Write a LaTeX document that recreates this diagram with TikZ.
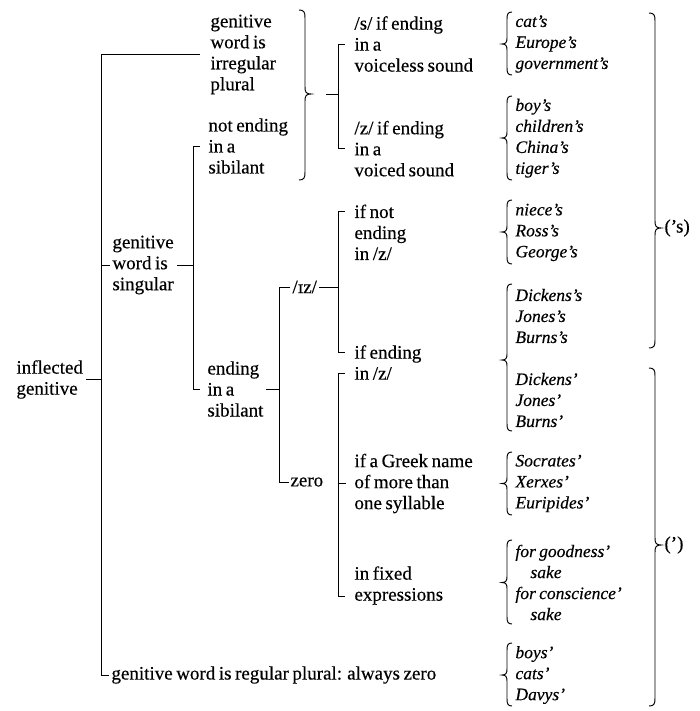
\documentclass[tikz,border=0pt]{standalone}
\usepackage{fontspec}
\setmainfont{Liberation Serif}[WordSpace=0.75,FakeBold=0.35]
\newfontfamily\ipa[Scale=0.9,FakeBold=0.35]{DejaVu Serif}
% right-facing brace: x, top, tip, bottom
\newcommand\RBr[4]{\draw ({#1-6},#2) .. controls ({#1-1},#2) and (#1,{#2+2}) .. (#1,{#2+8}) -- (#1,{#3-7}) .. controls (#1,{#3-2}) and ({#1+1},#3) .. ({#1+6},#3) .. controls ({#1+1},#3) and (#1,{#3+2}) .. (#1,{#3+7}) -- (#1,{#4-8}) .. controls (#1,{#4-2}) and ({#1-1},#4) .. ({#1-6},#4);}
% left-facing brace: x, top, tip, bottom
\newcommand\LBr[4]{\draw ({#1+5},#2) .. controls ({#1+1},#2) and (#1,{#2+2}) .. (#1,{#2+7}) -- (#1,{#3-6}) .. controls (#1,{#3-2}) and ({#1-1},#3) .. ({#1-5},#3) .. controls ({#1-1},#3) and (#1,{#3+2}) .. (#1,{#3+6}) -- (#1,{#4-7}) .. controls (#1,{#4-2}) and ({#1+1},#4) .. ({#1+5},#4);}
\begin{document}
\begin{tikzpicture}[x=1pt,y=-1pt,line width=0.95pt,
  lbl/.style={inner sep=0pt,anchor=west,align=left,font=\fontsize{19}{21}\selectfont},
  ex/.style={lbl,font=\fontsize{17.5}{21}\selectfont\itshape}]
\useasboundingbox (0,0) rectangle (699,711);
% trunk x positions
\coordinate (mx) at (101,0);
\coordinate (sx) at (193,0);
\coordinate (bx) at (279,0);
\coordinate (cx) at (338,0);
% labels
\node[lbl] (infl) at (16,379.5) {inflected\\genitive};
\node[lbl] (irr) at (210,54.5) {genitive\\word is\\irregular\\plural};
\node[lbl] (notend) at (208,146) {not ending\\in a\\sibilant};
\node[lbl] (sing) at (112,265) {genitive\\word is\\singular};
\node[lbl] (endsib) at (207,389) {ending\\in a\\sibilant};
\node[lbl] (reg) at (111,675) {genitive word is regular plural: always zero};
\node[lbl] (iz) at (292,287) {/{\ipa ɪ}z/};
\node[lbl] (zero) at (290,482) {zero};
\node[lbl] (vless) at (354,44) {/s/ if ending\\in a\\voiceless sound};
\node[lbl] (voiced) at (354,148.7) {/z/ if ending\\in a\\voiced sound};
\node[lbl] (notz) at (354,232.4) {if not\\ending\\in /z/};
\node[lbl] (ifz) at (354,362.5) {if ending\\in /z/};
\node[lbl] (greek) at (354,483.5) {if a Greek name\\of more than\\one syllable};
\node[lbl] (fixed) at (354,585.5) {in fixed\\expressions};
% examples
\node[ex] (e1) at (515,44) {cat's\\Europe's\\government's};
\node[ex] (e2) at (515,138.2) {boy's\\children's\\China's\\tiger's};
\node[ex] (e3) at (515,232.4) {niece's\\Ross's\\George's};
\node[ex] (e4) at (515,316) {Dickens's\\Jones's\\Burns's};
\node[ex] (e5) at (515,400) {Dickens'\\Jones'\\Burns'};
\node[ex] (e6) at (515,483.5) {Socrates'\\Xerxes'\\Euripides'};
\node[ex] (e7) at (515,582.5) {for goodness'\\\hspace*{15pt}sake\\for conscience'\\\hspace*{15pt}sake};
\node[ex] (e8) at (515,675) {boys'\\cats'\\Davys'};
\node[lbl] (s1) at (664,228) {(’s)};
\node[lbl] (s2) at (664,545) {(’)};
% main tree
\draw ([xshift=-10pt]irr.west) -- (irr.west -| mx) -- (reg.west -| mx) -- ([xshift=-2pt]reg.west);
\draw ([xshift=3pt]infl.east) -- (infl.east -| mx);
\draw (sing.west -| mx) -- ([xshift=-2pt]sing.west);
\draw ([xshift=3pt]sing.east) -- (sing.east -| sx);
\draw ([xshift=-8pt]notend.west) -- (notend.west -| sx) -- (endsib.west -| sx) -- ([xshift=-7pt]endsib.west);
\draw ([xshift=2pt]endsib.east) -- (endsib.east -| bx);
\draw ([xshift=-2pt]iz.west) -- (iz.west -| bx) -- (zero.west -| bx) -- ([xshift=-1pt]zero.west);
\draw ([xshift=2pt]iz.east) -- (iz.east -| cx);
% brace after irregular plural / not ending in a sibilant
\RBr{305}{10}{94}{180}
\coordinate (bt) at (326,94);
\draw (bt) -- (bt -| cx);
\draw ([xshift=-9pt]vless.west) -- (vless.west -| cx) -- (voiced.west -| cx) -- ([xshift=-9pt]voiced.west);
% /iz/ bracket
\coordinate (n1) at (345,211.4);
\coordinate (n2) at (345,352);
\draw (n1) -- (n1 -| cx) -- (n2 -| cx) -- (n2);
% zero bracket
\coordinate (z1) at (345,373);
\coordinate (z2) at (345,596);
\draw (z1) -- (z1 -| cx) -- (z2 -| cx) -- (z2);
\draw (greek.west -| cx) -- ([xshift=-8pt]greek.west);
% example braces
\LBr{507}{12}{44}{75}
\LBr{507}{96}{138}{180}
\LBr{507}{200}{232}{264}
\LBr{507}{284}{360}{431}
\LBr{507}{452}{483.5}{515}
\LBr{507}{540}{582.5}{624}
\LBr{507}{643}{675}{706}
% big braces
\RBr{655}{13}{228}{348}
\RBr{655}{368}{545}{706}
\end{tikzpicture}
\end{document}
